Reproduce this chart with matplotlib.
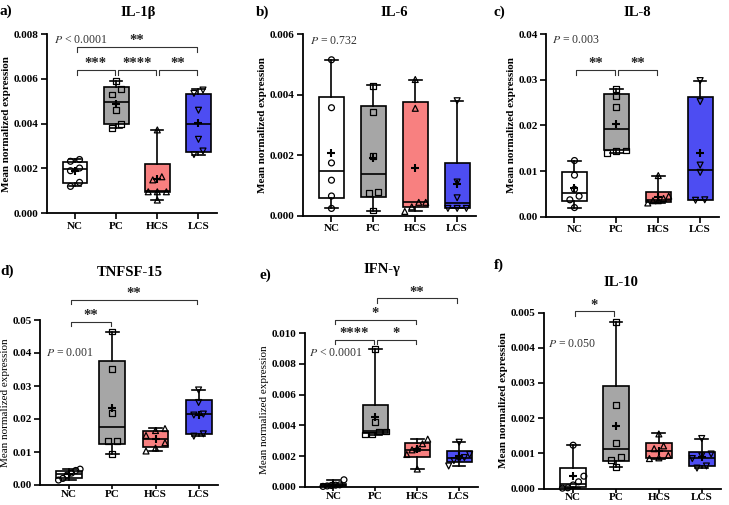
import numpy as np
import matplotlib.pyplot as plt

plt.rcParams['font.family'] = ['Liberation Serif', 'DejaVu Serif']
plt.rcParams['mathtext.fontset'] = 'stix'

W, H = 729, 505

GROUPS = ["NC", "PC", "HCS", "LCS"]
COLORS = ["white", "#a6a6a6", "#f88080", "#4d4df2"]
MARKERS = ["o", "s", "^", "v"]

# box rows are [min, q1, median, q3, max]
IL1B_PTS = [[0.00232, 0.00240, 0.00190, 0.00202, 0.00138, 0.00120],
            [0.00590, 0.00555, 0.00530, 0.00460, 0.00397, 0.00380],
            [0.00372, 0.00163, 0.00149, 0.00096, 0.00096, 0.00096, 0.00059],
            [0.00550, 0.00535, 0.00460, 0.00330, 0.00278, 0.00262]]
IL1B_BOX = [[0.00120, 0.00137, 0.00196, 0.00230, 0.00242],
            [0.00380, 0.00397, 0.00495, 0.00565, 0.00592],
            [0.00059, 0.00096, 0.00098, 0.00219, 0.00372],
            [0.00260, 0.00275, 0.00398, 0.00532, 0.00553]]
IL1B_MEAN = [0.00187, 0.00486, 0.00152, 0.00401]
IL1B_SIG = [(0, 1, "***", 0.0064), (1, 2, "****", 0.0064),
            (2, 3, "**", 0.0064), (0, 3, "**", 0.00744)]

IL6_PTS = [[0.00515, 0.00357, 0.00175, 0.00118, 0.00066, 0.00025],
           [0.00430, 0.00342, 0.00197, 0.00080, 0.00075, 0.00018],
           [0.00450, 0.00355, 0.00045, 0.00045, 0.00030, 0.00015],
           [0.00380, 0.00112, 0.00060, 0.00025, 0.00025, 0.00025]]
IL6_BOX = [[0.00025, 0.00059, 0.00147, 0.00393, 0.00513],
           [0.00016, 0.00063, 0.00138, 0.00361, 0.00431],
           [0.00015, 0.00030, 0.00046, 0.00375, 0.00450],
           [0.00025, 0.00025, 0.00042, 0.00176, 0.00380]]
IL6_MEAN = [0.00208, 0.00190, 0.00157, 0.00104]
IL6_SIG = []

IL8_PTS = [[0.0123, 0.0091, 0.0060, 0.0045, 0.0037, 0.0020],
           [0.0280, 0.0265, 0.0240, 0.0145, 0.0143, 0.0140],
           [0.0090, 0.0045, 0.0040, 0.0035, 0.0035, 0.0030],
           [0.0298, 0.0252, 0.0113, 0.0097, 0.0037, 0.0036]]
IL8_BOX = [[0.0020, 0.0035, 0.00525, 0.0098, 0.0123],
           [0.0140, 0.0145, 0.0193, 0.0268, 0.0280],
           [0.0030, 0.0033, 0.0037, 0.0055, 0.0090],
           [0.0036, 0.0037, 0.0102, 0.0262, 0.0298]]
IL8_MEAN = [0.0062, 0.0202, 0.0044, 0.0139]
IL8_SIG = [(0, 1, "**", 0.0321), (1, 2, "**", 0.0321)]

TNF_PTS = [[0.0048, 0.0044, 0.0036, 0.0030, 0.0020, 0.0015],
           [0.0465, 0.0351, 0.0219, 0.0134, 0.0134, 0.0094],
           [0.0171, 0.0165, 0.0150, 0.0128, 0.0112, 0.0103],
           [0.0288, 0.0250, 0.0215, 0.0212, 0.0155, 0.0148]]
TNF_BOX = [[0.0015, 0.0022, 0.0032, 0.0042, 0.0048],
           [0.0094, 0.0123, 0.0177, 0.0377, 0.0465],
           [0.0103, 0.0114, 0.0139, 0.0164, 0.0172],
           [0.0148, 0.0155, 0.0214, 0.0258, 0.0288]]
TNF_MEAN = [0.0032, 0.0232, 0.0138, 0.0213]
TNF_SIG = [(0, 1, "**", 0.0495), (0, 3, "**", 0.0561)]

IFN_PTS = [[0.00045, 0.00012, 0.00010, 0.00008, 0.00005, 0.00002],
           [0.00900, 0.00420, 0.00360, 0.00360, 0.00340, 0.00340],
           [0.00310, 0.00280, 0.00250, 0.00240, 0.00210, 0.00115],
           [0.00290, 0.00210, 0.00190, 0.00180, 0.00170, 0.00135]]
IFN_BOX = [[0.00002, 0.00004, 0.00009, 0.00017, 0.00045],
           [0.00335, 0.00350, 0.00360, 0.00535, 0.00896],
           [0.00115, 0.00196, 0.00239, 0.00283, 0.00309],
           [0.00135, 0.00161, 0.00185, 0.00230, 0.00291]]
IFN_MEAN = [0.00012, 0.00452, 0.00249, 0.00200]
IFN_SIG = [(0, 1, "****", 0.00956), (1, 2, "*", 0.00956),
           (0, 2, "*", 0.01087), (1, 3, "**", 0.01228)]

IL10_PTS = [[0.00123, 0.00035, 0.00019, 0.00010, 0.00002, 0.00001],
            [0.00473, 0.00236, 0.00130, 0.00090, 0.00080, 0.00062],
            [0.00155, 0.00121, 0.00113, 0.00094, 0.00087, 0.00085],
            [0.00142, 0.00098, 0.00093, 0.00085, 0.00064, 0.00058]]
IL10_BOX = [[0.00001, 0.00003, 0.00012, 0.000575, 0.00123],
            [0.00061, 0.00077, 0.00111, 0.00292, 0.00473],
            [0.00083, 0.00088, 0.00107, 0.00129, 0.00157],
            [0.00057, 0.00063, 0.00088, 0.00105, 0.00142]]
IL10_MEAN = [0.00035, 0.00177, 0.00107, 0.00090]
IL10_SIG = [(0, 1, "*", 0.00503)]


def spread(vals, thr, gap=0.22):
    # push overlapping points sideways, lowest on the left
    vals = np.asarray(vals)
    order = np.argsort(vals, kind="stable")
    offs = np.zeros(len(vals))
    clusters = []
    cur = [order[0]]
    for k in order[1:]:
        if vals[k] - vals[cur[-1]] < thr:
            cur.append(k)
        else:
            clusters.append(cur)
            cur = [k]
    clusters.append(cur)
    for c in clusters:
        n = len(c)
        g = gap if n < 3 else min(gap, 0.5 / (n - 1))
        for r, k in enumerate(c):
            offs[k] = (r - (n - 1) / 2) * g
    return offs


def bracket(ax, i, j, label, y, tick):
    x0, x1 = i + 0.04, j - 0.04
    ax.plot([x0, x0, x1, x1], [y - tick, y, y, y - tick], color="#333333",
            lw=0.8, clip_on=False)
    ax.annotate(label, xy=((i + j) / 2, y), xytext=(0, 2),
                textcoords="offset points", ha="center", va="baseline",
                fontsize=10.5, fontweight="bold", color="#222222",
                annotation_clip=False)


def panel(rect, pts, box, means, sig, ymax, step, fmt, ptext, ppos,
          bold_label=True, xpad=2):
    l, b, w, h = rect
    ax = fig.add_axes([l / W, 1 - b / H, w / W, h / H])
    stats = []
    for g, bx, m in zip(GROUPS, box, means):
        stats.append(dict(label=g, whislo=bx[0], q1=bx[1], med=bx[2],
                          q3=bx[3], whishi=bx[4], mean=m))
    bp = ax.bxp(stats, positions=range(4), widths=0.6, capwidths=0.3,
                patch_artist=True, showfliers=False,
                boxprops=dict(linewidth=1.2, edgecolor="black"),
                whiskerprops=dict(linewidth=1.2, color="black"),
                capprops=dict(linewidth=1.2, color="black"),
                medianprops=dict(linewidth=1.2, color="black"))
    for patch, c in zip(bp["boxes"], COLORS):
        patch.set_facecolor(c)
    for i, vals in enumerate(pts):
        offs = spread(vals, 0.035 * ymax)
        ax.scatter(i + offs, vals, marker=MARKERS[i], s=18, facecolors="none",
                   edgecolors="black", linewidths=0.9, zorder=4, clip_on=False)
        ax.plot(i, means[i], marker="+", color="black", ms=6, mew=1.5, zorder=5)

    for i, j, lab, y in sig:
        bracket(ax, i, j, lab, y, 0.028 * ymax)

    ax.set_xlim(-0.68, 3.45)
    ax.set_ylim(0, ymax)
    ticks = np.arange(0, ymax + step / 2, step)
    ax.set_yticks(ticks)
    ax.set_yticklabels([fmt.format(t) for t in ticks], fontweight="bold", fontsize=8)
    ax.set_xticks(range(4))
    ax.set_xticklabels(GROUPS, fontweight="bold", fontsize=8)
    for s in ["top", "right"]:
        ax.spines[s].set_visible(False)
    for s in ["left", "bottom"]:
        ax.spines[s].set_linewidth(1.3)
    ax.tick_params(axis="y", direction="out", length=4, width=1.2, pad=2)
    ax.tick_params(axis="x", direction="out", length=4 if xpad > 1 else 3,
                   width=1.2, pad=xpad)
    ax.set_ylabel("Mean normalized expression", fontsize=8,
                  fontweight="bold" if bold_label else "normal", labelpad=2)
    ax.text(ppos[0], ppos[1], ptext, transform=ax.transAxes, ha="center",
            va="center", fontsize=8.5, color="#333333")
    return ax


def label(x, y, s, size=10.5, ha="center"):
    fig.text(x / W, 1 - y / H, s, ha=ha, va="center", fontsize=size,
             fontweight="bold")


fig = plt.figure(figsize=(W / 100, H / 100), dpi=100)

panel([47, 213.3, 170, 179.3], IL1B_PTS, IL1B_BOX, IL1B_MEAN, IL1B_SIG,
      0.008, 0.002, "{:.3f}", r"$P$ < 0.0001", (0.2, 0.966))
panel([303, 216, 173, 182], IL6_PTS, IL6_BOX, IL6_MEAN, IL6_SIG,
      0.006, 0.002, "{:.3f}", r"$P$ = 0.732", (0.176, 0.963))
panel([546, 216.7, 173, 182.7], IL8_PTS, IL8_BOX, IL8_MEAN, IL8_SIG,
      0.04, 0.01, "{:.2f}", r"$P$ = 0.003", (0.17, 0.967))
panel([40, 485, 178, 165], TNF_PTS, TNF_BOX, TNF_MEAN, TNF_SIG,
      0.05, 0.01, "{:.2f}", r"$P$ = 0.001", (0.169, 0.8),
      bold_label=False, xpad=0.5)
panel([305, 486.7, 173, 153.4], IFN_PTS, IFN_BOX, IFN_MEAN, IFN_SIG,
      0.010, 0.002, "{:.3f}", r"$P$ < 0.0001", (0.176, 0.87),
      bold_label=False, xpad=0.5)
panel([544, 488.5, 177, 176], IL10_PTS, IL10_BOX, IL10_MEAN, IL10_SIG,
      0.005, 0.001, "{:.3f}", r"$P$ = 0.050", (0.155, 0.82), xpad=0.5)

label(138, 12.5, "IL-1β")
label(394, 12.5, "IL-6")
label(637, 12.5, "IL-8")
label(130, 272.5, "TNFSF-15")
label(382, 270, "IFN-γ")
label(621, 282, "IL-10")

label(0, 11, "a)", ha="left", size=11)
label(256, 12, "b)", ha="left", size=11)
label(494, 12, "c)", ha="left", size=11)
label(0, 271, "d)", ha="left", size=11)
label(260, 275, "e)", ha="left", size=11)
label(494, 265, "f)", ha="left", size=11)

fig.savefig("out.png", dpi=100)
